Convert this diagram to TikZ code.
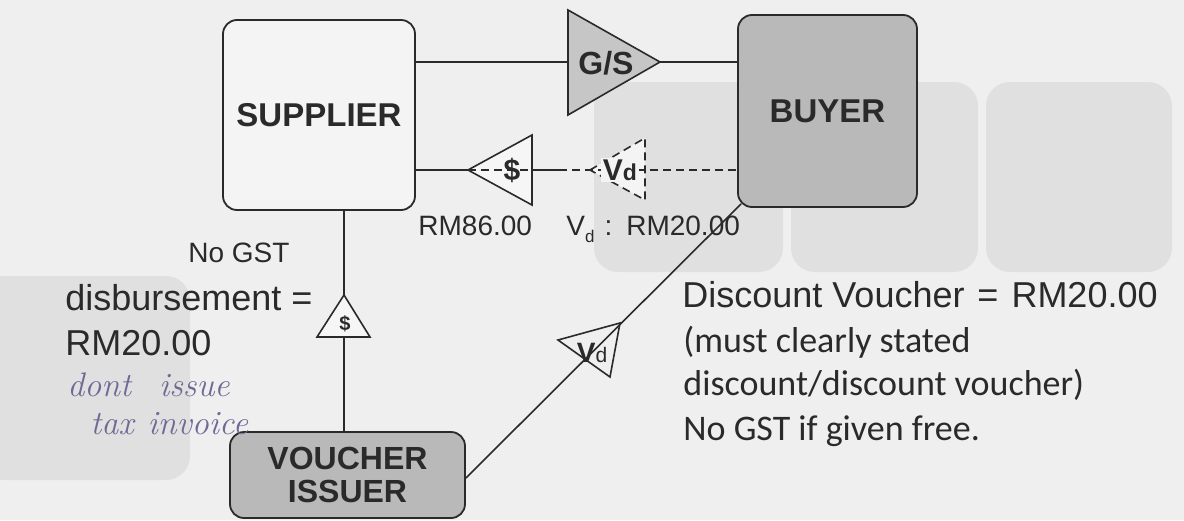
\documentclass[tikz,border=0pt]{standalone}
\usepackage{fontspec}
\setsansfont{Liberation Sans}
\newfontfamily\calib{Carlito}
\usetikzlibrary{calc}
\definecolor{bg}{HTML}{EFEFEF}
\definecolor{blob}{HTML}{E0E0E0}
\definecolor{ink}{HTML}{2A2A2A}
\definecolor{boxlight}{HTML}{F4F4F4}
\definecolor{boxdark}{HTML}{B9B9B9}
\definecolor{tri}{HTML}{C6C6C6}
\definecolor{trilight}{HTML}{F6F6F6}
\definecolor{pen}{HTML}{6F6A95}
\begin{document}
\begin{tikzpicture}[x=0.5pt,y=-0.5pt,
  box/.style={draw=ink, line width=0.9pt, rounded corners=7pt, inner sep=0pt,
    font=\sffamily\bfseries\fontsize{16.5}{16.5}\selectfont, text=ink, align=center},
  conn/.style={draw=ink, line width=0.8pt},
  dconn/.style={draw=ink, line width=0.8pt, dash pattern=on 4pt off 2.5pt},
  lbl/.style={inner sep=0pt, text=ink, anchor=base west},
  blobshape/.style={fill=blob, rounded corners=12pt},
  hand/.style={inner sep=0pt, text=pen, anchor=base west, font=\rmfamily\itshape\fontsize{17}{17}\selectfont}
]
\useasboundingbox (0,0) rectangle (1184,520);
\fill[bg] (0,0) rectangle (1184,520);
% faint background shapes
\fill[blobshape] (594,82) rectangle (783,272);
\fill[blobshape] (791,82) rectangle (978,272);
\fill[blobshape] (986,82) rectangle (1172,272);
\fill[blobshape] (-20,276) rectangle (190,480);

% boxes
\node[box, fill=boxlight, minimum width=96pt, minimum height=95pt] (supplier) at (319,115) {SUPPLIER};
\node[box, fill=boxdark, minimum width=89.5pt, minimum height=96pt] (buyer) at (827.5,111) {BUYER};
\node[box, fill=boxdark, minimum width=117.5pt, minimum height=43pt,
  font=\sffamily\bfseries\fontsize{16}{16.5}\selectfont] (voucher) at (347.5,475) {VOUCHER\\ISSUER};

% G/S flow
\coordinate (gsA) at (568,10);
\coordinate (gsB) at (568,115);
\coordinate (gsP) at (660,62);
\draw[conn] (supplier.east |- gsP) -- (gsP -| buyer.west);
\filldraw[conn, fill=tri] (gsA) -- (gsB) -- (gsP) -- cycle;
\node[inner sep=0pt, text=ink, font=\sffamily\bfseries\fontsize{16}{16}\selectfont] (gs) at (606,63) {G/S};

% payment / voucher flow
\coordinate (dP) at (468,170);
\coordinate (dA) at (532,135);
\coordinate (dB) at (532,205);
\coordinate (dM) at (532,170);
\coordinate (dS) at (564,170);
\coordinate (vP) at (590,170);
\coordinate (vA) at (645,138);
\coordinate (vB) at (645,200);
\fill[trilight] (dP) -- (dA) -- (dB) -- cycle;
\fill[boxlight] (vP) -- (vA) -- (vB) -- cycle;
\draw[conn] (supplier.east |- dP) -- (dP);
\draw[dconn] (dP) -- (dP -| buyer.west);
\draw[conn] (dM) -- (dS);
\draw[conn] (dP) -- (dA) -- (dB) -- cycle;
\draw[dconn] (vP) -- (vA) -- (vB) -- cycle;
\node[inner sep=0pt, text=ink, font=\sffamily\bfseries\fontsize{15}{15}\selectfont] (dollar) at (512,170) {\$};
\node[inner sep=1pt, fill=boxlight, text=ink, font=\sffamily\bfseries\fontsize{15}{15}\selectfont] (vd) at (620,170) {V{\fontsize{11.5}{11.5}\selectfont d}};

\node[lbl, font=\sffamily\fontsize{14}{14}\selectfont] (rm86) at (418,235) {RM86.00};
\node[lbl, font=\sffamily\fontsize{14}{14}\selectfont] (vdval) at (566,235)
  {V\raisebox{-3.5pt}{\fontsize{8.5}{8.5}\selectfont d}\hspace{5pt}:\hspace{7pt}RM20.00};

% voucher issuer to supplier
\coordinate (sT) at (344,295);
\coordinate (sL) at (317,337);
\coordinate (sR) at (370,337);
\draw[conn] (supplier.south -| sT) -- (voucher.north -| sT);
\filldraw[conn, fill=trilight] (sT) -- (sL) -- (sR) -- cycle;
\node[inner sep=0pt, text=ink, font=\sffamily\bfseries\fontsize{10}{10}\selectfont] (sdollar) at (345,324) {\$};

% voucher issuer to buyer
\coordinate (tA) at (558,340);
\coordinate (tB) at (620,323);
\coordinate (tC) at (610,377);
\draw[conn] ($(voucher.east)+(0,3)$) -- ($(buyer.south west)+(4,-4)$);
\draw[conn] (tA) -- (tB) -- (tC) -- cycle;
\node[inner sep=0pt, text=ink, font=\sffamily\bfseries\fontsize{14}{14}\selectfont] (vd2) at (592,353) {V{\mdseries\fontsize{10.5}{10.5}\selectfont d}};

% left notes
\node[lbl, font=\sffamily\fontsize{14}{14}\selectfont] (nogst) at (188,262) {No GST};
\node[lbl, font=\sffamily\fontsize{18}{18}\selectfont] (disb) at (65,310) {disbursement =};
\node[lbl, font=\sffamily\fontsize{18}{18}\selectfont] (disbv) at (65,355) {RM20.00};
\node[hand] (h1) at (67,396) {dont\hspace{14pt}issue};
\node[hand] (h2) at (90,434) {tax\hspace{7pt}invoice};

% right notes
\node[lbl, font=\sffamily\fontsize{18}{18}\selectfont] (dv) at (682,307) {Discount Voucher\hspace{6.5pt}=\hspace{6.5pt}RM20.00};
\node[lbl, font=\calib\fontsize{18}{18}\selectfont] (n2) at (683,352) {(must clearly stated};
\node[lbl, font=\calib\fontsize{18}{18}\selectfont] (n3) at (683,395) {discount/discount voucher)};
\node[lbl, font=\calib\fontsize{18}{18}\selectfont] (n4) at (683,440) {No GST if given free.};
\end{tikzpicture}
\end{document}
